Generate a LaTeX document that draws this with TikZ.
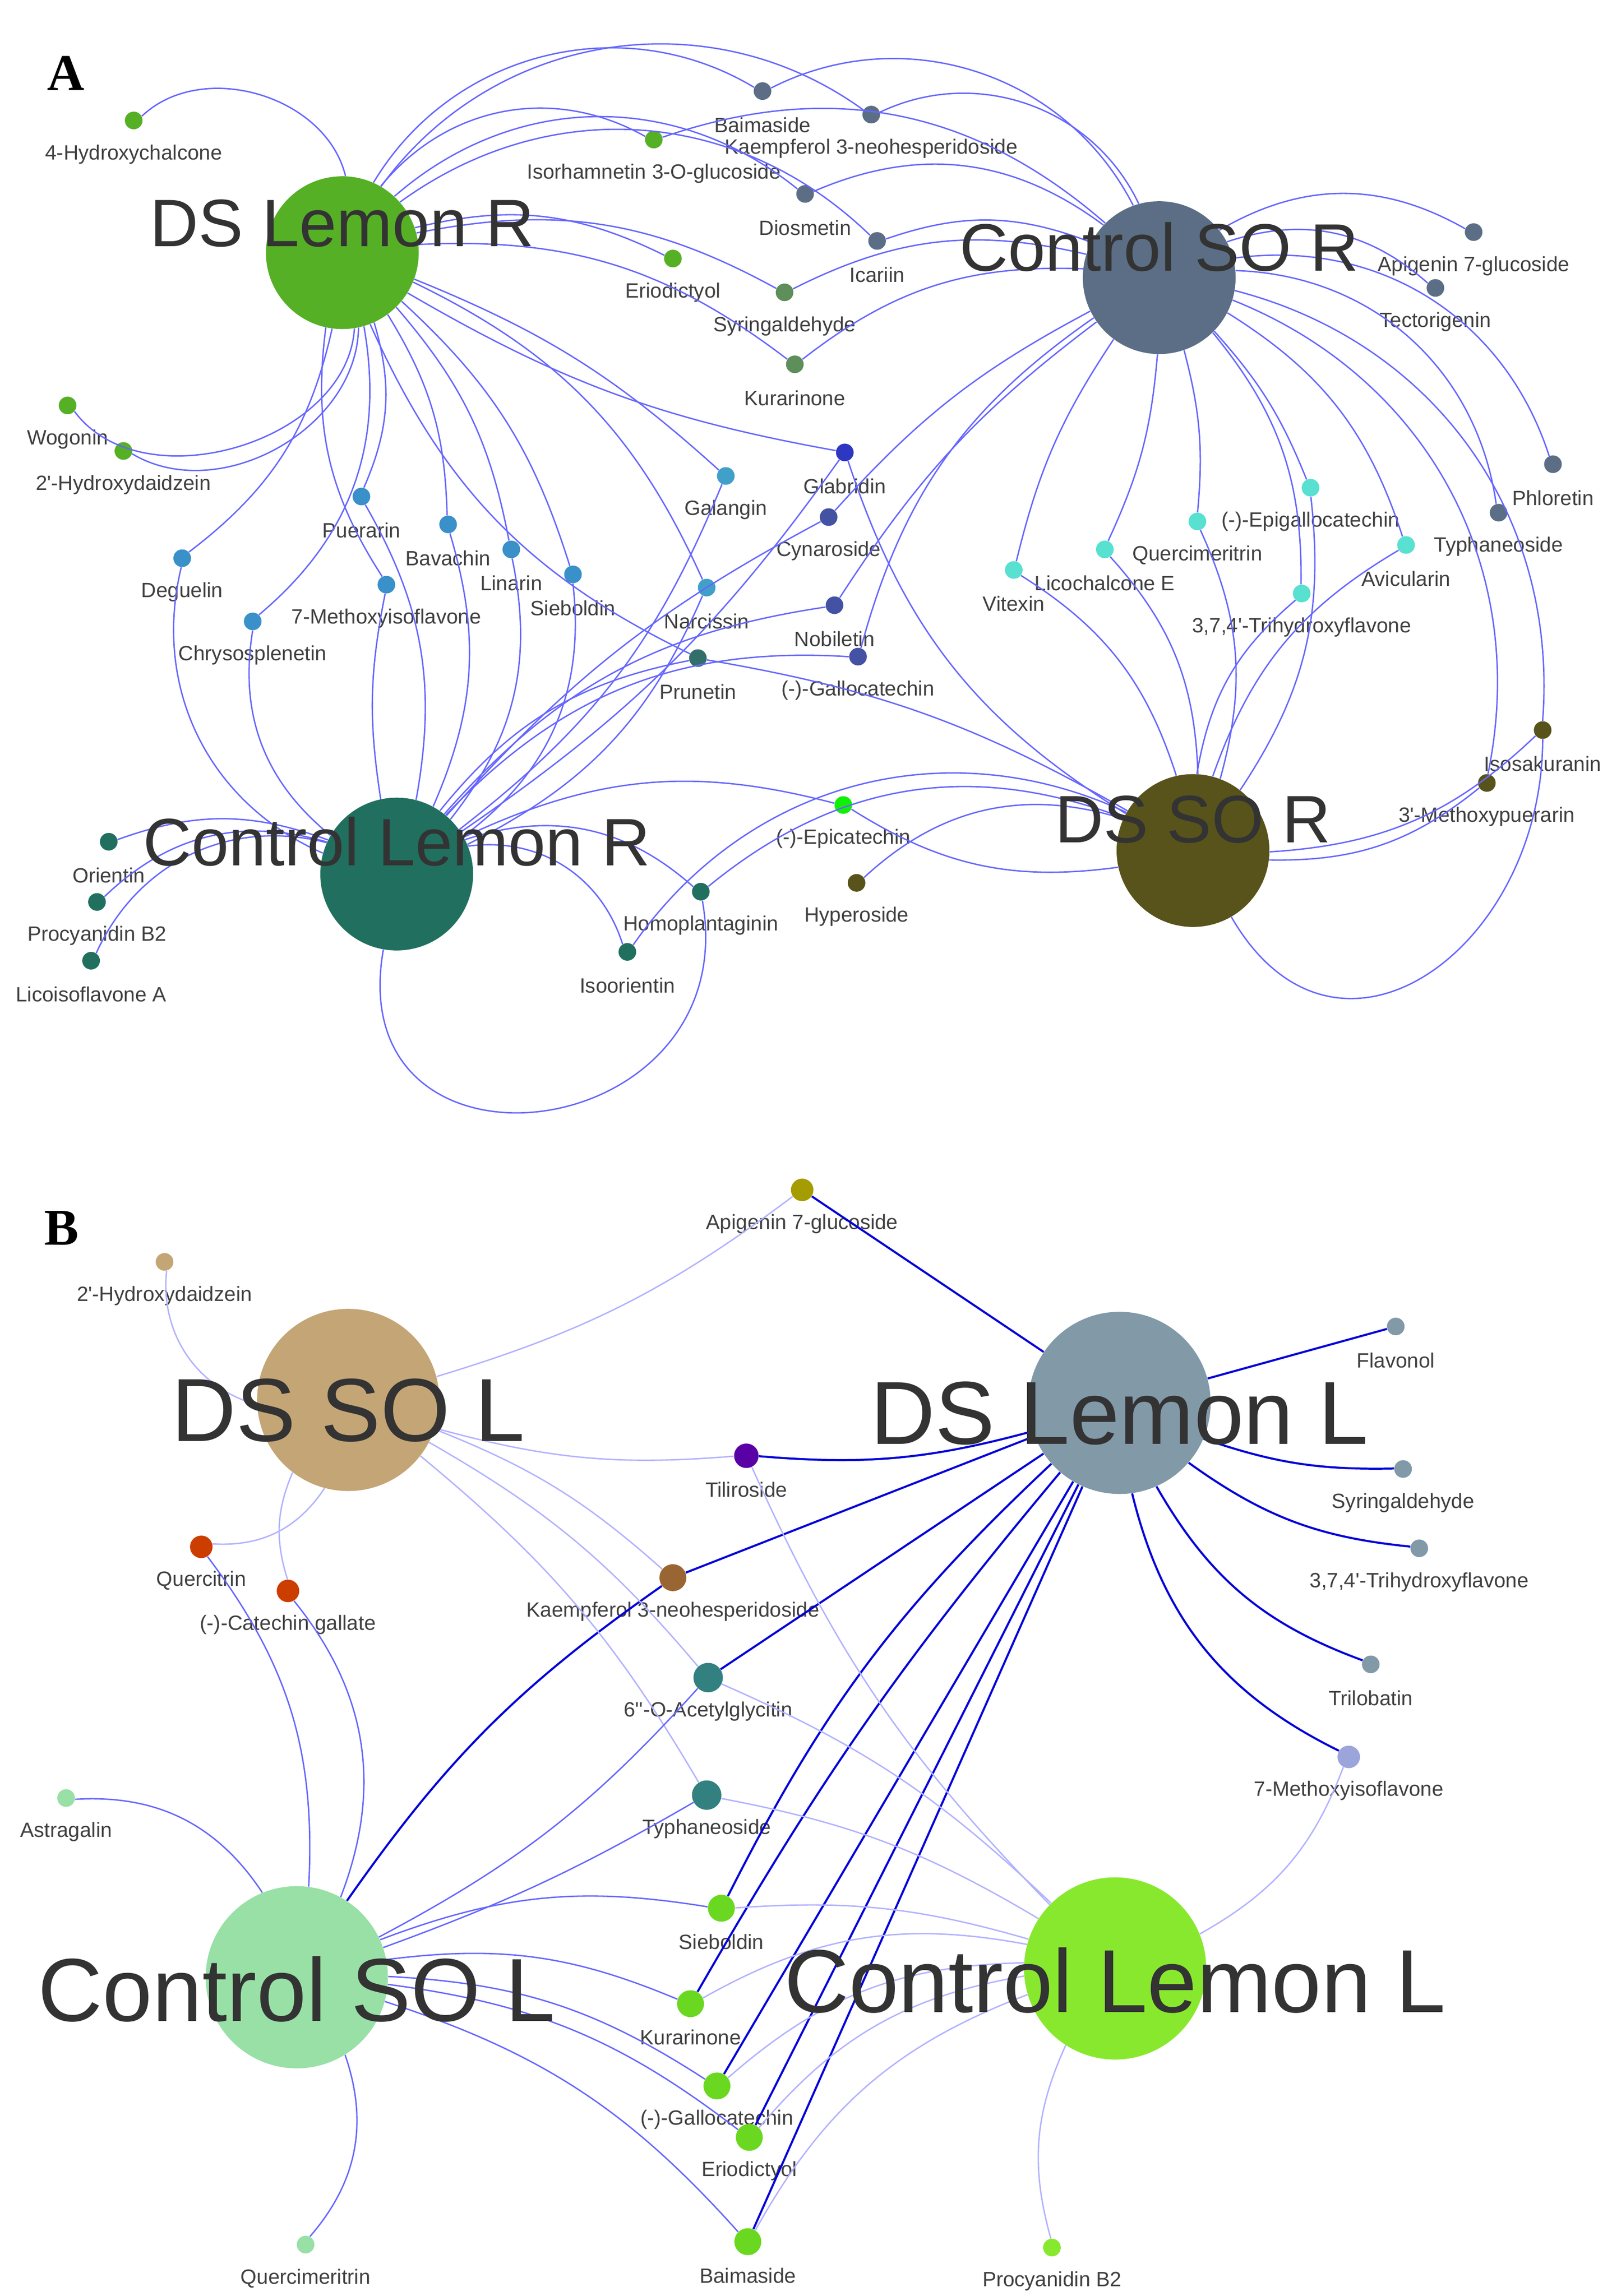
\documentclass[tikz,border=0pt]{standalone}
\usepackage{fontspec}
\setmainfont{Liberation Serif}
\newfontfamily\lab{Liberation Sans}
\begin{document}
\begin{tikzpicture}[x=0.03cm,y=-0.03cm,
 hub/.style={circle,inner sep=0pt,minimum size=3.12cm,fill=#1},
 hubb/.style={circle,inner sep=0pt,minimum size=3.72cm,fill=#1},
 tn/.style={circle,inner sep=0pt,minimum size=0.42cm,fill=#1},
 lb/.style={font=\lab\fontsize{12}{12}\selectfont,text=black!75},
 bigA/.style={font=\lab\fontsize{39}{39}\selectfont,text=black!80},
 bigB/.style={font=\lab\fontsize{52}{52}\selectfont,text=black!80},
 e/.style={draw=blue!60!white,line width=0.8pt},
 d/.style={draw=blue!85!black,line width=1.2pt},
 l/.style={draw=blue!30!white,line width=0.8pt}]
\useasboundingbox (0,0) rectangle (1097,1563);
\fill[white] (0,0) rectangle (1097,1563);
\definecolor{cA}{HTML}{56B025}\definecolor{cS}{HTML}{5B6E85}\definecolor{cT}{HTML}{21705F}\definecolor{cO}{HTML}{57531A}
\definecolor{cb}{HTML}{3A90C8}\definecolor{cc}{HTML}{58E0D0}\definecolor{cm}{HTML}{5E8E5A}
%%%% PANEL A
\node[font=\bfseries\fontsize{30}{30}\selectfont] (LA) at (45,50) {A};
\node[hub=cA] (a1) at (233,172) {};
\node[hub=cS] (a2) at (789,189) {};
\node[hub=cT] (a3) at (270,595) {};
\node[hub=cO] (a4) at (812,579) {};
\foreach \n/\x/\y/\c/\t in {
 h1/91/82/cA/4-Hydroxychalcone, h2/445/95/cA/Isorhamnetin 3-O-glucoside, h3/458/176/cA/Eriodictyol,
 h4/46/276/cA/Wogonin, h5/84/307/cA/2'-Hydroxydaidzein,
 s1/519/62/cS/Baimaside, s2/593/78/cS/Kaempferol 3-neohesperidoside, s3/548/132/cS/Diosmetin,
 s4/597/164/cS/Icariin, s5/1003/158/cS/Apigenin 7-glucoside, s6/977/196/cS/Tectorigenin,
 s7/1057/316/cS/Phloretin, s8/1020/349/cS/Typhaneoside,
 m1/534/199/cm/Syringaldehyde, m2/541/248/cm/Kurarinone,
 c1/892/332/cc/(-)-Epigallocatechin, c2/815/355/cc/Quercimeritrin, c3/752/374/cc/Licochalcone E,
 c4/690/388/cc/Vitexin, c5/957/371/cc/Avicularin, c6/886/404/cc/{3,7,4'-Trihydroxyflavone},
 b1/246/338/cb/Puerarin, b2/305/357/cb/Bavachin, b3/348/374/cb/Linarin, b4/390/391/cb/Sieboldin,
 b5/263/398/cb/7-Methoxyisoflavone, b6/124/380/cb/Deguelin, b7/172/423/cb/Chrysosplenetin,
 g1/494/324/cb!80!cc/Galangin, g2/481/400/cb!80!cc/Narcissin, g3/475/448/cT!70!cS/Prunetin,
 g4/575/308/blue!50!cS/Glabridin, g5/564/352/blue!25!cS/Cynaroside, g6/568/412/blue!25!cS/Nobiletin,
 g7/584/447/blue!25!cS/(-)-Gallocatechin,
 o1/1050/497/cO/Isosakuranin, o2/1012/533/cO/3'-Methoxypuerarin, o3/583/601/cO/Hyperoside,
 p1/574/548/green!80!cA/(-)-Epicatechin,
 t1/74/573/cT/Orientin, t2/66/614/cT/Procyanidin B2, t3/62/654/cT/Licoisoflavone A,
 t4/477/607/cT/Homoplantaginin, t5/427/648/cT/Isoorientin}
 {\node[tn=\c,minimum size=0.36cm] (\n) at (\x,\y) {}; \node[lb] at (\x,\y+23) {\t};}
\foreach \s/\t/\b in {h1/a1/60, h2/a1/-40, h3/a1/-20, h4/a1/-70, h5/a1/-60,
 b1/a1/-20, b2/a1/-15, b3/a1/-15, b4/a1/-15, b5/a1/20, b6/a1/-20, b7/a1/-30,
 b1/a3/20, b2/a3/20, b3/a3/25, b4/a3/30, b5/a3/-10, b6/a3/-40, b7/a3/-30,
 s1/a1/-45, s2/a1/-45, s3/a1/-40, s4/a1/-40, m1/a1/-20, m2/a1/-20,
 s1/a2/45, s2/a2/45, s3/a2/30, s4/a2/20, m1/a2/20, m2/a2/20,
 s5/a2/-30, s6/a2/-30, s7/a2/-40, s8/a2/-40, h2/a2/30,
 c1/a2/-10, c2/a2/-10, c3/a2/-10, c4/a2/10, c5/a2/-20, c6/a2/-20,
 c1/a4/20, c2/a4/20, c3/a4/20, c4/a4/20, c5/a4/-20, c6/a4/-20,
 g1/a1/-10, g1/a3/15, g2/a1/-20, g2/a3/20, g3/a1/20, g3/a3/-20, g3/a4/10,
 g4/a1/10, g4/a3/10, g4/a4/-20, g5/a2/10, g5/a3/-10, g6/a2/10, g6/a3/-20, g7/a2/20, g7/a3/-25,
 o1/a4/20, o2/a4/20, o1/a2/-40, o2/a2/-40, o3/a4/30, p1/a4/-20, p1/a3/-20,
 t1/a3/20, t2/a3/30, t3/a3/40, t4/a3/-30, t5/a3/-40, t4/a4/30, t5/a4/40}
 {\draw[e] (\s) to[bend left=\b] (\t);}
\draw[e] (a3) to[out=-100,in=-80,looseness=2] (t4);
\draw[e] (a4) to[out=-60,in=-90,looseness=1.5] (o1);
\node[bigA] at (233,152) {DS Lemon R};
\node[bigA] at (789,168) {Control SO R};
\node[bigA] at (270,573) {Control Lemon R};
\node[bigA] at (812,558) {DS SO R};
%%%% PANEL B
\node[font=\bfseries\fontsize{30}{30}\selectfont] (LB) at (42,836) {B};
\definecolor{cDS}{HTML}{C4A576}\definecolor{cDL}{HTML}{8299A8}\definecolor{cCS}{HTML}{98E0A6}\definecolor{cCL}{HTML}{88E82E}
\definecolor{cgr}{HTML}{6AD820}
\node[hubb=cDS] (b1h) at (237,953) {};
\node[hubb=cDL] (b2h) at (762,955) {};
\node[hubb=cCS] (b3h) at (202,1346) {};
\node[hubb=cCL] (b4h) at (759,1340) {};
\foreach \n/\x/\y/\c/\t/\r in {
 q1/546/810/olive!80!yellow/Apigenin 7-glucoside/0.46, q2/112/859/cDS/2'-Hydroxydaidzein/0.36,
 q3/950/903/cDL/Flavonol/0.36, q4/508/991/violet!70!blue/Tiliroside/0.5, q5/955/1000/cDL/Syringaldehyde/0.36,
 q6/137/1053/orange!60!red!80!black/Quercitrin/0.46, q7/196/1083/orange!60!red!80!black/(-)-Catechin gallate/0.46,
 q8/458/1074/brown!80!black/Kaempferol 3-neohesperidoside/0.55, q9/966/1054/cDL/{3,7,4'-Trihydroxyflavone}/0.36,
 q10/482/1142/teal!60!gray/6''-O-Acetylglycitin/0.6, q11/933/1133/cDL/Trilobatin/0.36,
 q12/918/1196/cyan!30!blue!40!white/7-Methoxyisoflavone/0.46, q13/45/1224/cCS/Astragalin/0.36,
 q14/481/1222/teal!60!gray/Typhaneoside/0.6, q15/491/1299/cgr/Sieboldin/0.55,
 q16/470/1364/cgr/Kurarinone/0.55, q17/488/1420/cgr/(-)-Gallocatechin/0.55, q18/510/1455/cgr/Eriodictyol/0.55,
 q19/509/1526/cgr/Baimaside/0.55, q20/208/1528/cCS/Quercimeritrin/0.36, q21/716/1530/cCL/Procyanidin B2/0.36}
 {\node[circle,inner sep=0pt,minimum size=\r cm,fill=\c] (\n) at (\x,\y) {}; \node[lb] at (\x,\y+23) {\t};}
\foreach \t/\b in {q1/0,q3/0,q4/10,q5/-10,q8/0,q9/-15,q10/0,q11/-20,q12/-25,q15/-10,q16/-5,q17/0,q18/0,q19/0}
 {\draw[d] (b2h) to[bend left=\b] (\t);}
\draw[d] (q8) to[bend right=10] (b3h);
\foreach \s/\t/\b in {b1h/q1/-10,b1h/q4/-10,b1h/q8/10,b1h/q10/10,b1h/q14/10,b1h/q2/40,b1h/q6/30,b1h/q7/-20,
 q4/b4h/-10,q10/b4h/10,q14/b4h/10,q12/b4h/20,q15/b4h/10,q16/b4h/20,q17/b4h/20,q18/b4h/20,q19/b4h/20,q21/b4h/20}
 {\draw[l] (\s) to[bend left=\b] (\t);}
\foreach \s/\t/\b in {b3h/q10/-10,b3h/q14/-5,b3h/q15/15,b3h/q16/15,b3h/q17/15,b3h/q18/15,b3h/q19/15,b3h/q13/-30,b3h/q20/30,b3h/q7/-30,b3h/q6/-20}
 {\draw[e] (\s) to[bend left=\b] (\t);}
\node[bigB] at (237,960) {DS SO L};
\node[bigB] at (762,962) {DS Lemon L};
\node[bigB] at (202,1354) {Control SO L};
\node[bigB] at (759,1348) {Control Lemon L};
\end{tikzpicture}
\end{document}
